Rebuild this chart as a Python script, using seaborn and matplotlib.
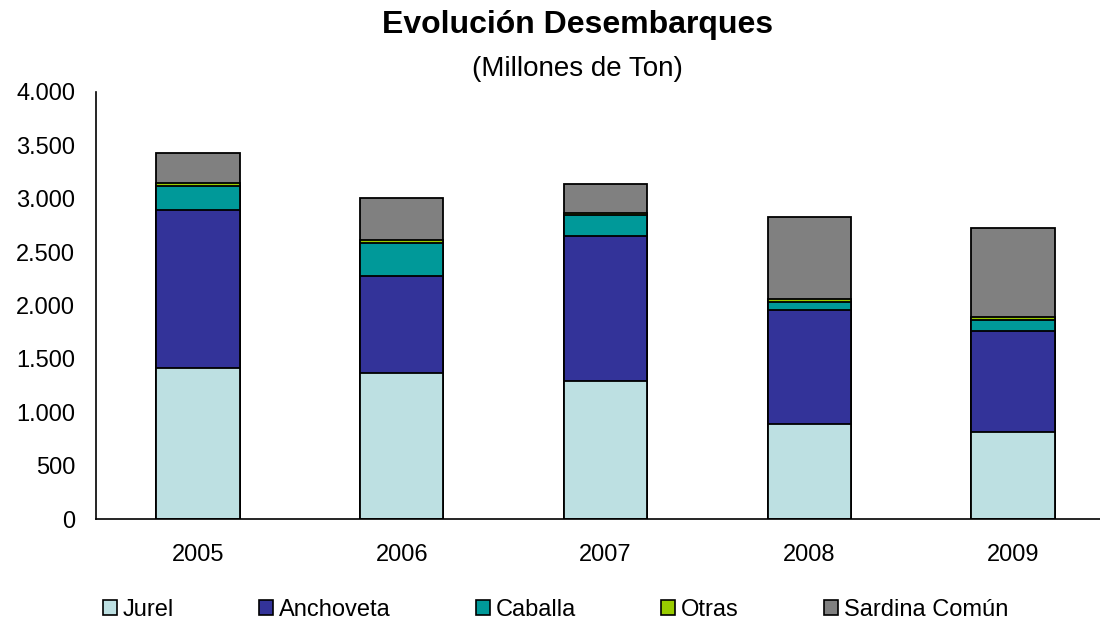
import numpy as np
import pandas as pd
import matplotlib.pyplot as plt
import seaborn as sns
from matplotlib.patches import Patch
from matplotlib.ticker import FuncFormatter, FixedLocator, NullFormatter

# Data (miles de ton)
years = ['2005', '2006', '2007', '2008', '2009']
species = ['Jurel', 'Anchoveta', 'Caballa', 'Otras', 'Sardina Común']
jurel = [1410, 1365, 1290, 890, 815]
anchoveta = [1480, 910, 1360, 1070, 945]
caballa = [225, 310, 195, 75, 100]
otras = [30, 30, 25, 25, 30]
sardina = [285, 395, 270, 770, 835]
colors = ['#BDE0E2', '#333399', '#009999', '#99CC00', '#808080']

# Build table with cumulative heights for stacking
df = pd.DataFrame({'year': years, 'Jurel': jurel, 'Anchoveta': anchoveta,
                   'Caballa': caballa, 'Otras': otras, 'Sardina Común': sardina})
cum = df[species].cumsum(axis=1)
cum['year'] = df['year']

sns.set_style('white')
plt.rcParams['font.family'] = ['Liberation Sans', 'DejaVu Sans']
plt.rcParams['text.color'] = 'black'

fig = plt.figure(figsize=(11, 6.29), dpi=100)
ax = fig.add_axes([96 / 1100, 1 - 519 / 629, 1019 / 1100, 427 / 629])

# draw tallest first so lower segments sit on top
for sp, c in zip(species[::-1], colors[::-1]):
    sns.barplot(data=cum, x='year', y=sp, order=years, color=c, saturation=1,
                edgecolor='black', linewidth=1.3, width=0.41, ax=ax)

ax.set_xlim(-0.5, 4.5)
ax.set_ylim(0, 4000)
ax.set_yticks(np.arange(0, 4001, 500))
ax.yaxis.set_major_formatter(FuncFormatter(lambda v, p: f'{int(v):,}'.replace(',', '.')))
ax.set_xlabel('')
ax.set_ylabel('')

for s in ['top', 'right']:
    ax.spines[s].set_visible(False)
for s in ['left', 'bottom']:
    ax.spines[s].set_color('black')
    ax.spines[s].set_linewidth(1.2)

ax.tick_params(axis='y', which='major', length=7, width=1.2, direction='out',
               labelsize=17, pad=8, colors='black', labelcolor='black')
ax.tick_params(axis='x', which='major', length=0, labelsize=17, pad=18,
               colors='black', labelcolor='black')
ax.xaxis.set_minor_locator(FixedLocator(np.arange(-0.5, 5, 1)))
ax.xaxis.set_minor_formatter(NullFormatter())
ax.tick_params(axis='x', which='minor', length=7, width=1.2, direction='out', colors='black')

fig.text(0.525, 0.96, 'Evolución Desembarques', ha='center', va='center',
         fontsize=23, fontweight='bold', color='black')
fig.text(0.525, 0.89, '(Millones de Ton)', ha='center', va='center',
         fontsize=20, color='black')

handles = [Patch(facecolor=c, edgecolor='black', linewidth=1.2, label=s)
           for s, c in zip(species, colors)]
fig.legend(handles=handles, loc='center', bbox_to_anchor=(0.505, 0.03), ncol=5,
           frameon=False, fontsize=17, handlelength=0.6, handleheight=0.6,
           handletextpad=0.25, columnspacing=3.6, labelcolor='black')

fig.savefig('out.png', dpi=100)
